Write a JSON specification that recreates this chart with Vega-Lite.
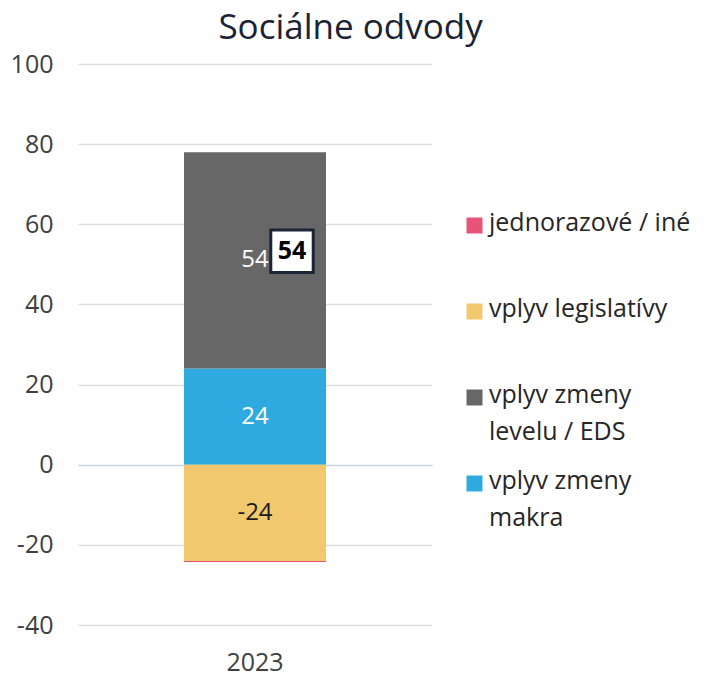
{
  "$schema": "https://vega.github.io/schema/vega-lite/v6.json",
  "width": 354,
  "height": 561,
  "autosize": {"type": "none"},
  "padding": {"left": 78, "top": 64, "right": 273, "bottom": 55},
  "background": "white",
  "config": {
    "view": {"stroke": null},
    "font": "Open Sans"
  },
  "title": {
    "text": "Sociálne odvody",
    "fontSize": 35,
    "font": "Open Sans",
    "fontWeight": "normal",
    "color": "#1b2333",
    "anchor": "middle",
    "frame": "bounds",
    "offset": 6
  },
  "datasets": {
    "parts": [
      {"year": "2023", "category": "vplyv zmeny makra", "value": 24, "ord": 1},
      {"year": "2023", "category": "vplyv zmeny levelu / EDS", "value": 54, "ord": 2},
      {"year": "2023", "category": "vplyv legislatívy", "value": -24, "ord": 3},
      {"year": "2023", "category": "jednorazové / iné", "value": -0.3, "ord": 4}
    ],
    "total": [
      {"year": "2023", "total": 54}
    ]
  },
  "layer": [
    {
      "data": {"name": "parts"},
      "mark": {"type": "bar", "width": 142},
      "encoding": {
        "x": {
          "field": "year", "type": "nominal",
          "axis": {"title": null, "labelAngle": 0, "labelFontSize": 25, "labelColor": "#404040", "labelPadding": 25, "ticks": false, "domain": false, "labelFont": "Open Sans"}
        },
        "y": {
          "field": "value", "type": "quantitative", "stack": "zero",
          "scale": {"domain": [-40, 100], "nice": false},
          "axis": {
            "title": null, "values": [-40, -20, 0, 20, 40, 60, 80, 100],
            "labelExpr": "datum.value < 0 ? '-' + abs(datum.value) : '' + datum.value",
            "labelFontSize": 25, "labelColor": "#404040", "labelPadding": 25,
            "ticks": false, "domain": false, "labelFont": "Open Sans",
            "gridColor": {"condition": {"test": "datum.value === 0", "value": "#c8d4e6"}, "value": "#dedede"},
            "gridWidth": 1.5
          }
        },
        "color": {
          "field": "category", "type": "nominal",
          "scale": {
            "domain": ["jednorazové / iné", "vplyv legislatívy", "vplyv zmeny levelu / EDS", "vplyv zmeny makra"],
            "range": ["#e8537a", "#f2c86e", "#676767", "#2eaae1"]
          },
          "legend": {
            "title": null,
            "orient": "none",
            "legendX": 384,
            "legendY": 149,
            "padding": 0,
            "symbolType": "square",
            "symbolSize": 256,
            "symbolStrokeWidth": 0,
            "labelFontSize": 25,
            "labelFont": "Open Sans",
            "labelColor": "#262626",
            "labelOffset": 2,
            "labelLimit": 300,
            "labelBaseline": "top",
            "gridAlign": "all",
            "rowPadding": 23,
            "labelExpr": "datum.label == 'vplyv zmeny levelu / EDS' ? ['vplyv zmeny', 'levelu / EDS'] : datum.label == 'vplyv zmeny makra' ? ['vplyv zmeny', 'makra'] : datum.label",
            "encode": {
              "labels": {"update": {"lineHeight": {"value": 37}, "dy": {"value": -15}}}
            }
          }
        },
        "order": {"field": "ord", "type": "quantitative"}
      }
    },
    {
      "data": {"name": "parts"},
      "transform": [
        {"stack": "value", "groupby": ["year"], "sort": [{"field": "ord"}], "as": ["v0", "v1"], "offset": "zero"},
        {"filter": "abs(datum.value) > 1"},
        {"calculate": "(datum.v0 + datum.v1) / 2", "as": "mid"},
        {"calculate": "datum.value < 0 ? '-' + abs(datum.value) : '' + datum.value", "as": "lbl"}
      ],
      "mark": {"type": "text", "fontSize": 24, "font": "Open Sans", "baseline": "middle", "align": "center"},
      "encoding": {
        "x": {"field": "year", "type": "nominal"},
        "y": {"field": "mid", "type": "quantitative"},
        "text": {"field": "lbl", "type": "nominal"},
        "color": {
          "condition": {"test": "datum.category == 'vplyv legislatívy'", "value": "#1a1a1a"},
          "value": "white"
        }
      }
    },
    {
      "data": {"name": "total"},
      "mark": {"type": "point", "shape": "square", "size": 1800, "filled": true, "fill": "white", "stroke": "#1b2535", "strokeWidth": 3, "opacity": 1, "xOffset": 37, "yOffset": 3},
      "encoding": {
        "x": {"field": "year", "type": "nominal"},
        "y": {"field": "total", "type": "quantitative"}
      }
    },
    {
      "data": {"name": "total"},
      "mark": {"type": "text", "fontSize": 25, "fontWeight": "bold", "font": "Open Sans", "color": "black", "xOffset": 37, "yOffset": 3, "baseline": "middle", "align": "center"},
      "encoding": {
        "x": {"field": "year", "type": "nominal"},
        "y": {"field": "total", "type": "quantitative"},
        "text": {"field": "total", "type": "quantitative"}
      }
    }
  ]
}
